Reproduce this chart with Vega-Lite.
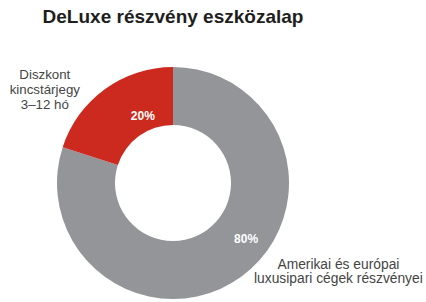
{
  "$schema": "https://vega.github.io/schema/vega-lite/v6.json",
  "autosize": {"type": "none"},
  "padding": {"left": 0, "top": 67, "right": 80, "bottom": 3},
  "width": 346,
  "height": 232,
  "background": "#ffffff",
  "title": {
    "text": "DeLuxe részvény eszközalap",
    "font": "Liberation Sans",
    "fontSize": 19,
    "fontWeight": "bold",
    "color": "#1e1e1e",
    "anchor": "middle",
    "frame": "group",
    "baseline": "alphabetic",
    "offset": 11,
    "dy": 5
  },
  "data": {
    "values": [
      {"segment": "Amerikai és európai luxusipari cégek részvényei", "label": "Amerikai és európai\nluxusipari cégek részvényei", "value": 80, "order": 1, "pct": "80%"},
      {"segment": "Diszkont kincstárjegy 3–12 hó", "label": "Diszkont\nkincstárjegy\n3–12 hó", "value": 20, "order": 2, "pct": "20%"}
    ]
  },
  "encoding": {
    "theta": {"field": "value", "type": "quantitative", "stack": true},
    "order": {"field": "order", "type": "quantitative"}
  },
  "layer": [
    {
      "mark": {"type": "arc", "outerRadius": 116, "innerRadius": 58},
      "encoding": {
        "color": {
          "field": "segment",
          "type": "nominal",
          "scale": {
            "domain": ["Amerikai és európai luxusipari cégek részvényei", "Diszkont kincstárjegy 3–12 hó"],
            "range": ["#939598", "#cc2a1f"]
          },
          "legend": null
        }
      }
    },
    {
      "mark": {"type": "text", "radius": 87, "dx": 21, "dy": 3, "font": "Liberation Sans", "fontSize": 12, "fontWeight": "bold", "color": "#ffffff", "align": "center", "baseline": "middle"},
      "encoding": {"text": {"condition": {"test": "datum.order == 2", "field": "pct"}, "value": ""}}
    },
    {
      "mark": {"type": "text", "radius": 87, "dx": 22, "dy": -14, "font": "Liberation Sans", "fontSize": 12, "fontWeight": "bold", "color": "#ffffff", "align": "center", "baseline": "middle"},
      "encoding": {"text": {"condition": {"test": "datum.order == 1", "field": "pct"}, "value": ""}}
    },
    {
      "mark": {"type": "text", "radius": 150, "dx": -40, "dy": 13, "lineBreak": "\n", "lineHeight": 15, "font": "Liberation Sans", "fontSize": 13.3, "color": "#444444", "align": "center", "baseline": "middle"},
      "encoding": {"text": {"condition": {"test": "datum.order == 2", "field": "label"}, "value": ""}}
    },
    {
      "mark": {"type": "text", "radius": 130, "dx": 89, "dy": -23, "lineBreak": "\n", "lineHeight": 13.5, "font": "Liberation Sans", "fontSize": 13.8, "color": "#444444", "align": "center", "baseline": "middle"},
      "encoding": {"text": {"condition": {"test": "datum.order == 1", "field": "label"}, "value": ""}}
    }
  ],
  "config": {"view": {"stroke": null}}
}
